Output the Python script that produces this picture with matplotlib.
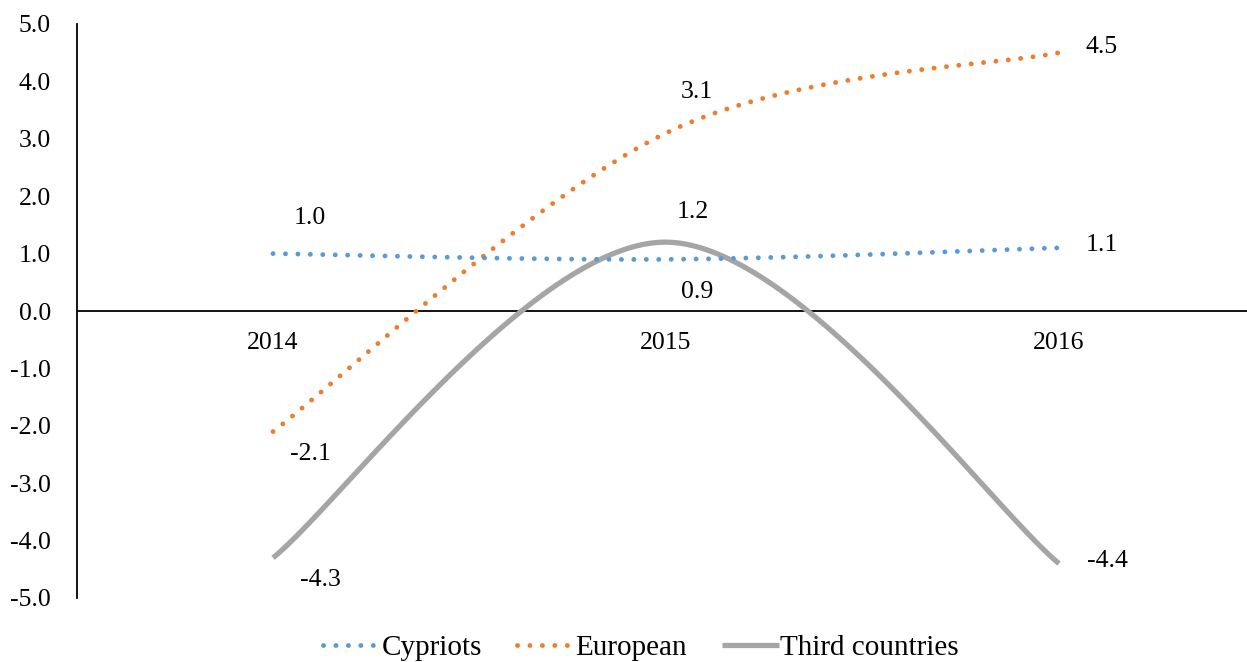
import numpy as np
import matplotlib
matplotlib.use("Agg")
import matplotlib.pyplot as plt

years = ["2014", "2015", "2016"]
cypriots = [1.0, 0.9, 1.1]
european = [-2.1, 3.1, 4.5]
third_countries = [-4.3, 1.2, -4.4]
y_ticks = [-5, -4, -3, -2, -1, 0, 1, 2, 3, 4, 5]


def smooth(xs, ys, n=60):
    """Bezier-smoothed path through the points (spreadsheet style smoothing)."""
    xs = np.asarray(xs, float)
    ys = np.asarray(ys, float)
    pts = np.column_stack([xs, ys])
    m = len(pts)
    out = []
    t = np.linspace(0, 1, n)[:, None]
    for i in range(m - 1):
        p0 = pts[i]
        p3 = pts[i + 1]
        prev = pts[i - 1] if i > 0 else pts[i]
        nxt = pts[i + 2] if i + 2 < m else pts[i + 1]
        c1 = p0 + (p3 - prev) / 6.0
        c2 = p3 - (nxt - p0) / 6.0
        seg = ((1 - t) ** 3) * p0 + 3 * ((1 - t) ** 2) * t * c1 + 3 * (1 - t) * t ** 2 * c2 + t ** 3 * p3
        out.append(seg if i == 0 else seg[1:])
    seg = np.vstack(out)
    return seg[:, 0], seg[:, 1]


W, H = 1247, 662
fig = plt.figure(figsize=(W / 100, H / 100), dpi=100)
x0, x1 = 76.5, 1255.5
y_top, y_bot = 24, 598
ax = fig.add_axes([x0 / W, 1 - y_bot / H, (x1 - x0) / W, (y_bot - y_top) / H])

serif = ["Liberation Serif", "DejaVu Serif"]
FS = 18.5
xpos = np.arange(len(years))

blue = "#5B9BD5"
orange = "#ED7D31"
gray = "#A5A5A5"
dots = (0, (0.01, 2.55))

sx, sy = smooth(xpos, third_countries)
ax.plot(sx, sy, color=gray, lw=3.8, solid_capstyle="butt", label="Third countries", zorder=2)
sx, sy = smooth(xpos, european)
ax.plot(sx, sy, color=orange, lw=3.5, linestyle=dots, dash_capstyle="round",
        label="European", zorder=3)
sx, sy = smooth(xpos, cypriots)
ax.plot(sx, sy, color=blue, lw=3.5, linestyle=dots, dash_capstyle="round",
        label="Cypriots", zorder=4)

ax.set_xlim(-0.5, 2.5)
ax.set_ylim(-5, 5)
ax.axhline(0, color="black", lw=1.3, zorder=1)

ax.set_yticks(y_ticks)
ax.set_yticklabels([f"{v:.1f}" for v in y_ticks], fontsize=FS, family=serif)
ax.tick_params(axis="y", length=0, pad=18.5)
ax.set_xticks([])

for s in ["top", "right", "bottom"]:
    ax.spines[s].set_visible(False)
ax.spines["left"].set_linewidth(1.3)

# category labels sit just below the zero line
for xi, lab in zip(xpos, years):
    ax.text(xi, -0.56, lab, ha="center", va="center", fontsize=FS, family=serif)

ppx = 393.0  # pixels per category
ppy = 57.4   # pixels per unit


def lab(x, y, v, dx, dy):
    ax.text(x + dx / ppx, y + dy / ppy, f"{v:.1f}", ha="center", va="center",
            fontsize=FS, family=serif)


offsets_cyp = [(37, 36), (31, -33), (43, 3)]
offsets_eur = [(37, -22), (31, 41), (43, 6)]
offsets_thr = [(47, -22), (27, 30), (48, 3)]
for series, offs in [(cypriots, offsets_cyp), (european, offsets_eur), (third_countries, offsets_thr)]:
    for xi, (v, (dxp, dyp)) in enumerate(zip(series, offs)):
        lab(xi, v, v, dxp, dyp)

handles, labels = ax.get_legend_handles_labels()
order = [2, 1, 0]
leg = fig.legend([handles[i] for i in order], [labels[i] for i in order],
                 loc="center", bbox_to_anchor=(641 / W, 1 - 648 / H), ncol=3, frameon=False,
                 prop={"family": serif, "size": 21}, handlelength=1.95,
                 handletextpad=0.05, columnspacing=1.2, borderpad=0.1)

fig.savefig("out.png", dpi=100)
